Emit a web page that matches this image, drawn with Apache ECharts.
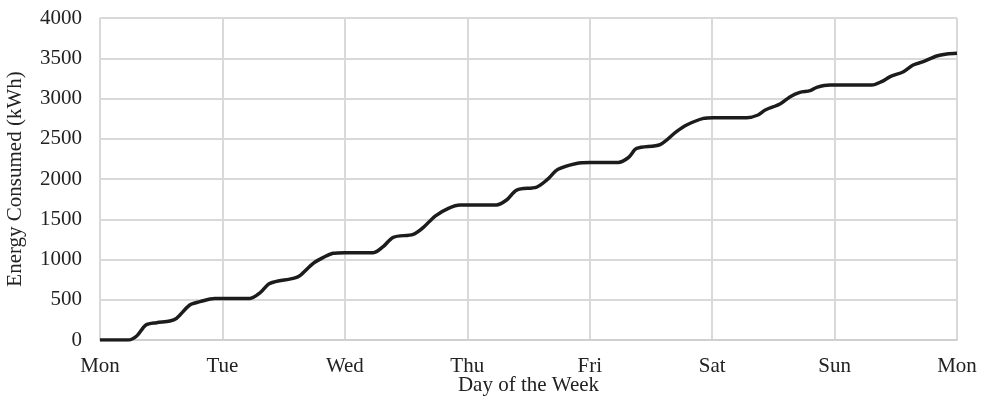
<!DOCTYPE html>
<html>
<head>
<meta charset="utf-8">
<script src="https://cdn.jsdelivr.net/npm/echarts@6/dist/echarts.min.js"></script>
<style>
  html, body { margin: 0; padding: 0; background: #fff; }
  #chart { width: 984px; height: 397px; }
</style>
</head>
<body>
<div id="chart"></div>
<script>
// hours since Monday 00:00
const hours = [0, 5.5, 7.2, 9.0, 11.1, 13.7, 15.0, 17.6, 19.6, 22.5, 29.4, 31.4, 33.3, 37.9, 39.2, 41.8, 43.8, 45.7, 48.0,
    53.6, 55.5, 57.5, 61.4, 63.4, 65.7, 68.3, 70.6, 77.7, 79.7, 81.7, 85.6, 87.6, 89.8, 93.4, 96.1,
    101.6, 103.6, 105.2, 109.8, 113.0, 115.0, 118.3, 120.2, 126.8, 129.0, 130.4, 133.3, 135.3, 137.2, 139.2, 140.5, 143.1,
    151.3, 153.2, 154.9, 157.5, 159.4, 161.4, 164.0, 166.0, 168]
// cumulative energy, kWh
const energy = [0, 0, 50, 186, 215, 236, 270, 435, 476, 517, 517, 588, 704, 766, 800, 952, 1027, 1077, 1085,
    1085, 1159, 1276, 1313, 1400, 1540, 1636, 1677, 1677, 1739, 1863, 1900, 1988, 2120, 2193, 2205,
    2205, 2267, 2379, 2428, 2588, 2671, 2753, 2762, 2762, 2795, 2857, 2932, 3023, 3077, 3097, 3139, 3168,
    3168, 3209, 3271, 3333, 3416, 3457, 3528, 3553, 3561]
const dayLabels = ["Mon", "Tue", "Wed", "Thu", "Fri", "Sat", "Sun", "Mon"]

const serif = "Liberation Serif"
const points = hours.map((h, i) => [h, energy[i]])

const option = {
    animation: false,
    grid: { left: 100, right: 27, top: 18, bottom: 57, outerBoundsMode: 'none', containLabel: false },
    xAxis: {
        type: 'value',
        min: 0,
        max: 168,
        interval: 24,
        name: 'Day of the Week',
        nameLocation: 'middle',
        nameGap: 35,
        nameMoveOverlap: false,
        nameTextStyle: { fontFamily: serif, fontSize: 21, color: '#222' },
        axisLine: { show: true, lineStyle: { color: '#d0d0d0', width: 2 } },
        axisTick: { show: false },
        axisLabel: {
            fontFamily: serif, fontSize: 21, color: '#222', margin: 16,
            formatter: function (v) { return dayLabels[Math.round(v / 24)] }
        },
        splitLine: { show: true, lineStyle: { color: '#d9d9d9', width: 2 } }
    },
    yAxis: {
        type: 'value',
        min: 0,
        max: 4000,
        interval: 500,
        name: 'Energy Consumed (kWh)',
        nameLocation: 'middle',
        nameGap: 74,
        nameMoveOverlap: false,
        nameTextStyle: { fontFamily: serif, fontSize: 21, color: '#222' },
        axisLine: { show: false },
        axisTick: { show: false },
        axisLabel: {
            fontFamily: serif, fontSize: 21, color: '#222', margin: 18,
            formatter: function (v) { return String(v) }
        },
        splitLine: { show: true, lineStyle: { color: '#d9d9d9', width: 2 } }
    },
    series: [{
        type: 'line',
        data: points,
        smooth: 0.3,
        showSymbol: false,
        lineStyle: { color: '#1c1c1c', width: 3.5 }
    }]
}

const chart = echarts.init(document.getElementById('chart'))
chart.setOption(option)
window.onresize = function () {
    chart.resize()
}
</script>
</body>
</html>
